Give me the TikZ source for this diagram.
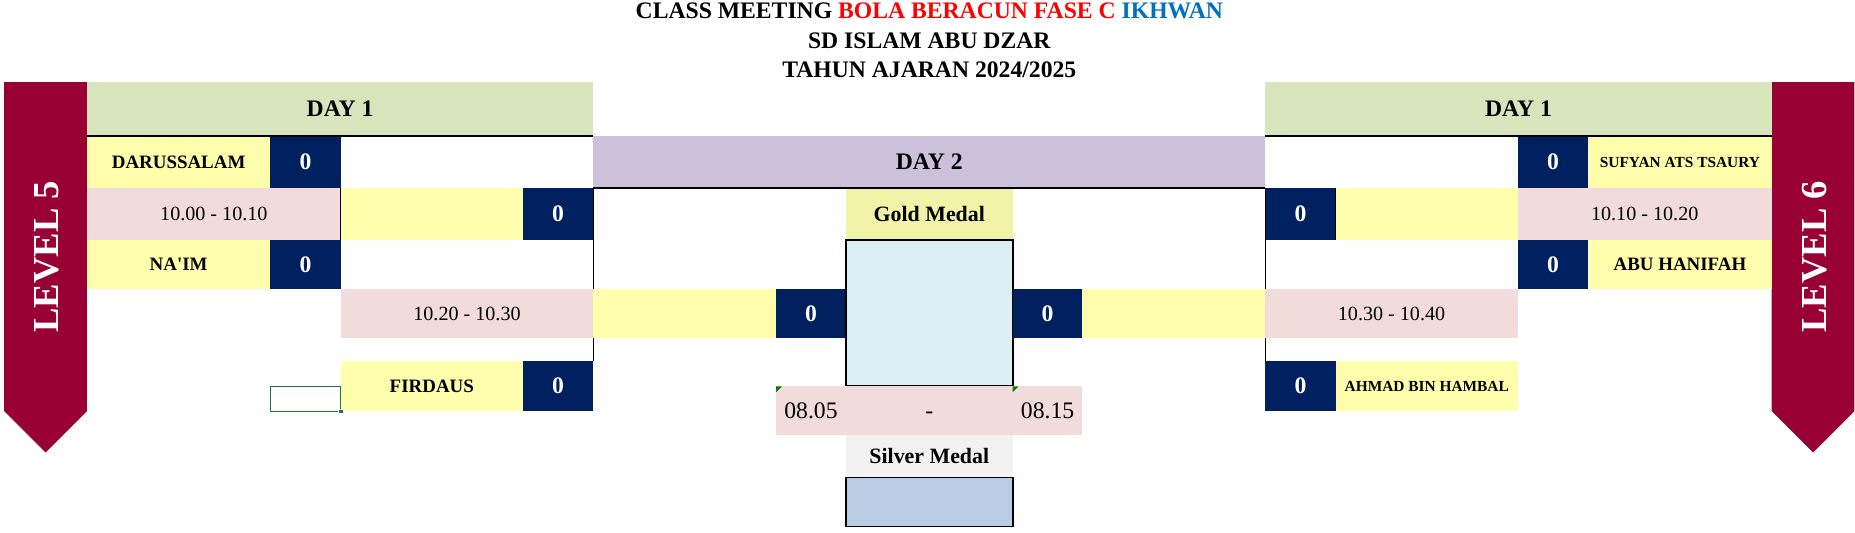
\documentclass[tikz,border=0pt]{standalone}
\usepackage{fontspec}
\setmainfont{Liberation Serif}
\definecolor{bannerred}{HTML}{990033}
\definecolor{dayone}{HTML}{D8E4BC}
\definecolor{daytwo}{HTML}{CCC0DA}
\definecolor{slotyellow}{HTML}{FFFEAC}
\definecolor{timepink}{HTML}{F2DCDB}
\definecolor{navy}{HTML}{002060}
\definecolor{goldlabel}{HTML}{F0F3A8}
\definecolor{goldbox}{HTML}{DAEEF3}
\definecolor{silverlabel}{HTML}{F2F2F2}
\definecolor{silverbox}{HTML}{B8CCE4}
\definecolor{titlered}{HTML}{FF0000}
\definecolor{titleblue}{HTML}{0070C0}
\definecolor{selgreen}{HTML}{217346}
\definecolor{errgreen}{HTML}{008000}
\begin{document}
\begin{tikzpicture}[x=1pt, y=-1pt,
    box/.style 2 args={minimum width=#1pt, minimum height=#2pt, inner sep=0pt, outer sep=0pt},
    title/.style={anchor=base, font=\fontsize{20}{22}\selectfont\bfseries},
    header/.style={font=\fontsize{20}{22}\selectfont\bfseries},
    team/.style={fill=slotyellow, font=\fontsize{16}{18}\selectfont\bfseries},
    smallteam/.style={team, font=\fontsize{13}{15}\selectfont\bfseries},
    score/.style={fill=navy, text=white, font=\fontsize{20}{22}\selectfont\bfseries},
    slot/.style={fill=slotyellow},
    time/.style={fill=timepink, font=\fontsize{17}{19}\selectfont},
    clock/.style={fill=timepink, text height=13.5pt, text depth=0pt, font=\fontsize{20}{22}\selectfont},
    medal/.style={font=\fontsize{18.5}{20}\selectfont\bfseries},
    trophy/.style={draw=black, line width=1.4pt},
    level/.style={rotate=90, text=white, font=\fontsize{31}{33}\selectfont\bfseries},
    border/.style={line width=1.2pt},
    bracket/.style={line width=0.8pt}
]
\fill[white] (0,0) rectangle (1568,450);
\useasboundingbox (0,0) rectangle (1568,450);

% title
\node[title] (title1) at (785.5,15.5) {CLASS MEETING \textcolor{titlered}{BOLA BERACUN FASE C} \textcolor{titleblue}{IKHWAN}};
\node[title] (title2) at (785.5,40.9) {SD ISLAM ABU DZAR};
\node[title] (title3) at (785.5,65.4) {TAHUN AJARAN 2024/2025};

% level banners
\fill[bannerred] (3.5,69.5) -- (73.5,69.5) -- (73.5,347.5) -- (38.5,382.5) -- (3.5,347.5) -- cycle;
\fill[bannerred] (1497.5,69.5) -- (1567.5,69.5) -- (1567.5,347.5) -- (1532.5,382.5) -- (1497.5,347.5) -- cycle;
\node[level] (level5) at (39.5,217) {LEVEL 5};
\node[level] (level6) at (1533.5,217) {LEVEL 6};

% headers
\node[header, fill=dayone, box={428}{45.5}] (day1L) at (287.5,92.25) {DAY 1};
\node[header, fill=dayone, box={428}{45.5}] (day1R) at (1283.5,92.25) {DAY 1};
\node[header, fill=daytwo, box={568}{44}] (day2) at (785.5,137) {DAY 2};

% left side
\node[team, box={155}{44}] (darussalam) at (151,137) {DARUSSALAM};
\node[score, box={59.5}{44}] (sL1) at (258.25,137) {0};
\node[time, box={214.5}{44}] (tL1) at (180.75,181) {10.00 - 10.10};
\node[slot, box={154}{44}] (yL1) at (365,181) {};
\node[score, box={59.5}{44}] (sL12) at (471.75,181) {0};
\node[team, box={155}{41.5}] (naim) at (151,223.75) {NA\textquotesingle IM};
\node[score, box={59.5}{41.5}] (sL2) at (258.25,223.75) {0};
\node[time, box={213.5}{41}] (tL2) at (394.75,265) {10.20 - 10.30};
\node[team, box={154}{42.5}] (firdaus) at (365,326.25) {FIRDAUS};
\node[score, box={59.5}{42.5}] (sL3) at (471.75,326.25) {0};

% final
\node[slot, box={154.5}{41}] (yF1) at (578.75,265) {};
\node[score, box={59}{41}] (sF1) at (685.5,265) {0};
\node[medal, fill=goldlabel, box={141}{44}] (goldlabel) at (785.5,181) {Gold Medal};
\node[trophy, fill=goldbox, box={141}{123.5}] (gold) at (785.5,264.75) {};
\node[score, box={59}{41}] (sF2) at (885.5,265) {0};
\node[slot, box={154.5}{41}] (yF2) at (992.25,265) {};
\node[clock, box={59}{41}] (start) at (685.5,347) {08.05};
\node[clock, box={141}{41}] (dash) at (785.5,347) {-};
\node[clock, box={59}{41}] (finish) at (885.5,347) {08.15};
\node[medal, fill=silverlabel, box={141}{36}] (silverlabel) at (785.5,385.5) {Silver Medal};
\node[trophy, fill=silverbox, box={141}{41.5}] (silver) at (785.5,424.25) {};

% right side
\node[score, box={59.5}{44}] (sR1) at (1312.75,137) {0};
\node[smallteam, box={155}{44}] (sufyan) at (1420,137) {SUFYAN ATS TSAURY};
\node[score, box={59.5}{44}] (sR12) at (1099.25,181) {0};
\node[slot, box={154}{44}] (yR1) at (1206,181) {};
\node[time, box={214.5}{44}] (tR1) at (1390.25,181) {10.10 - 10.20};
\node[score, box={59.5}{41.5}] (sR2) at (1312.75,223.75) {0};
\node[team, box={155}{41.5}] (hanifah) at (1420,223.75) {ABU HANIFAH};
\node[time, box={213.5}{41}] (tR2) at (1176.25,265) {10.30 - 10.40};
\node[score, box={59.5}{42.5}] (sR3) at (1099.25,326.25) {0};
\node[smallteam, box={154}{42.5}] (ahmad) at (1206,326.25) {AHMAD BIN HAMBAL};

% lines
\draw[border] (day1L.south west) -- (day1L.south east);
\draw[border] (day1R.south west) -- (day1R.south east);
\draw[border] (day2.south west) -- (day2.south east);
\draw[bracket] (yL1.north west) -- (yL1.south west);
\draw[bracket] (sL12.north east) -- (tL2.north east);
\draw[bracket] (tL2.south east) -- (sL3.north east);
\draw[bracket] (sR12.north east) -- (sR12.south east);
\draw[bracket] (sR12.north west) -- (tR2.north west);
\draw[bracket] (tR2.south west) -- (sR3.north west);

% marks
\fill[errgreen] (start.north west) -- ++(5,0) -- ++(-5,5) -- cycle;
\fill[errgreen] (finish.north west) -- ++(5,0) -- ++(-5,5) -- cycle;
\node[draw=selgreen, line width=1pt, box={59.5}{21}] (sel) at (258.25,337) {};
\node[fill=selgreen, draw=white, line width=0.4pt, box={4}{4}] (handle) at (sel.south east) {};
\end{tikzpicture}
\end{document}
